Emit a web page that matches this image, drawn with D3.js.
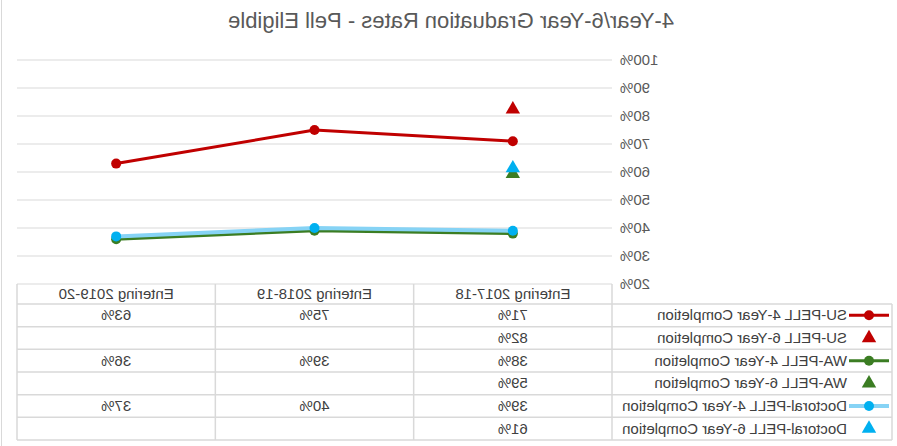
<!DOCTYPE html>
<html>
<head>
<meta charset="utf-8">
<script src="https://cdn.jsdelivr.net/npm/d3@7"></script>
<style>
  body { margin: 0; background: #fff; }
  text { font-family: "Liberation Sans", Arial, sans-serif; }
</style>
</head>
<body>
<svg id="chart" width="897" height="446"></svg>
<script>
const categories = [ "Entering 2017-18", "Entering 2018-19", "Entering 2019-20" ];
const yTicks = [ 20, 30, 40, 50, 60, 70, 80, 90, 100 ];

const suPell4 = [ 71, 75, 63 ];
const suPell6 = [ 82, null, null ];
const waPell4 = [ 38, 39, 36 ];
const waPell6 = [ 59, null, null ];
const docPell4 = [ 39, 40, 37 ];
const docPell6 = [ 61, null, null ];

const seriesNames = [
  "SU-PELL 4-Year Completion",
  "SU-PELL 6-Year Completion",
  "WA-PELL 4-Year Completion",
  "WA-PELL 6-Year Completion",
  "Doctoral-PELL 4-Year Completion",
  "Doctoral-PELL 6-Year Completion",
];

const series = [
  { name: seriesNames[0], values: suPell4, type: "line", line: "#C00000", mark: "#C00000", lw: 3 },
  { name: seriesNames[1], values: suPell6, type: "tri", mark: "#C00000" },
  { name: seriesNames[2], values: waPell4, type: "line", line: "#3B7D23", mark: "#3B7D23", lw: 3 },
  { name: seriesNames[3], values: waPell6, type: "tri", mark: "#3B7D23" },
  { name: seriesNames[4], values: docPell4, type: "line", line: "#86D3F5", mark: "#00B0F0", lw: 4 },
  { name: seriesNames[5], values: docPell6, type: "tri", mark: "#00B0F0" },
];

const W = 897, H = 446;
const PLOT = { left: 285, right: 880, top: 60, bottom: 284 };
const ROW0 = 304, ROWH = 22.67, LEGX = 5;
const FS = 15;

const svg = d3.select( "#chart" );
// the reference picture is mirrored left-to-right
const root = svg.append( "g" ).attr( "transform", `translate(${W},0) scale(-1,1)` );

root.append( "line" )
  .attr( "x1", W - 1.5 ).attr( "x2", W - 1.5 ).attr( "y1", 0 ).attr( "y2", H )
  .attr( "stroke", "#d9d9d9" );

root.append( "text" )
  .attr( "x", 446 ).attr( "y", 28 )
  .attr( "text-anchor", "middle" )
  .attr( "font-size", 22 )
  .attr( "fill", "#595959" )
  .text( "4-Year/6-Year Graduation Rates - Pell Eligible" );

const x = d3.scaleBand().domain( categories ).range( [ PLOT.left, PLOT.right ] ).padding( 0 );
const y = d3.scaleLinear().domain( [ 20, 100 ] ).range( [ PLOT.bottom, PLOT.top ] );
const cx = c => x( c ) + x.bandwidth() / 2;

// gridlines
root.append( "g" ).selectAll( "line" )
  .data( yTicks.filter( t => t > 20 ) )
  .enter().append( "line" )
  .attr( "x1", PLOT.left ).attr( "x2", PLOT.right )
  .attr( "y1", d => y( d ) ).attr( "y2", d => y( d ) )
  .attr( "stroke", "#d9d9d9" ).attr( "stroke-width", 1 );

// y axis labels
const yAxis = d3.axisLeft( y ).tickValues( yTicks ).tickFormat( d => d + "%" ).tickSize( 0 ).tickPadding( 8 );
const ya = root.append( "g" ).attr( "transform", `translate(${PLOT.left},0)` ).call( yAxis );
ya.select( ".domain" ).remove();
ya.selectAll( "text" )
  .attr( "font-size", FS ).attr( "fill", "#595959" )
  .style( "font-family", "'Liberation Sans', Arial, sans-serif" );

// series
const line = d3.line()
  .defined( d => d.v !== null )
  .x( d => cx( d.c ) )
  .y( d => y( d.v ) );

const tri = d3.symbol().type( d3.symbolTriangle ).size( 90 );

series.forEach( s => {
  const pts = s.values.map( ( v, i ) => ( { c: categories[i], v } ) );
  const g = root.append( "g" );
  if ( s.type === "line" ) {
    g.append( "path" ).datum( pts )
      .attr( "d", line )
      .attr( "fill", "none" )
      .attr( "stroke", s.line ).attr( "stroke-width", s.lw )
      .attr( "stroke-linejoin", "round" );
    g.selectAll( "circle" ).data( pts.filter( p => p.v !== null ) )
      .enter().append( "circle" )
      .attr( "cx", d => cx( d.c ) ).attr( "cy", d => y( d.v ) )
      .attr( "r", 5 ).attr( "fill", s.mark );
  } else {
    g.selectAll( "path" ).data( pts.filter( p => p.v !== null ) )
      .enter().append( "path" )
      .attr( "d", tri )
      .attr( "transform", d => `translate(${cx( d.c )},${y( d.v ) - 1})` )
      .attr( "fill", s.mark );
  }
} );

// data table
const grid = "#d9d9d9";
const tbl = root.append( "g" );
const rowsBottom = ROW0 + ROWH * series.length;

// header row
tbl.append( "line" ).attr( "x1", PLOT.left ).attr( "x2", PLOT.right )
  .attr( "y1", PLOT.bottom ).attr( "y2", PLOT.bottom ).attr( "stroke", grid );
tbl.selectAll( ".hdr" ).data( categories ).enter().append( "text" )
  .attr( "x", d => cx( d ) ).attr( "y", PLOT.bottom + 15 )
  .attr( "text-anchor", "middle" ).attr( "font-size", FS ).attr( "fill", "#404040" )
  .text( d => d );

// horizontal row lines
d3.range( series.length + 1 ).forEach( i => {
  tbl.append( "line" )
    .attr( "x1", LEGX ).attr( "x2", PLOT.right )
    .attr( "y1", ROW0 + i * ROWH ).attr( "y2", ROW0 + i * ROWH )
    .attr( "stroke", grid ).attr( "stroke-width", 1.5 );
} );

// vertical lines
const vx = [ PLOT.left ].concat( categories.map( c => x( c ) + x.bandwidth() ) );
vx.forEach( v => {
  tbl.append( "line" ).attr( "x1", v ).attr( "x2", v )
    .attr( "y1", PLOT.bottom ).attr( "y2", rowsBottom )
    .attr( "stroke", grid ).attr( "stroke-width", 1.5 );
} );
tbl.append( "line" ).attr( "x1", LEGX ).attr( "x2", LEGX )
  .attr( "y1", ROW0 ).attr( "y2", rowsBottom ).attr( "stroke", grid ).attr( "stroke-width", 1.5 );

// cells
series.forEach( ( s, r ) => {
  const ym = ROW0 + r * ROWH + ROWH / 2;
  s.values.forEach( ( v, i ) => {
    if ( v === null ) return;
    tbl.append( "text" )
      .attr( "x", cx( categories[i] ) ).attr( "y", ym + 5 )
      .attr( "text-anchor", "middle" ).attr( "font-size", FS ).attr( "fill", "#404040" )
      .text( v + "%" );
  } );
  // legend key
  if ( s.type === "line" ) {
    tbl.append( "line" ).attr( "x1", 8 ).attr( "x2", 48 ).attr( "y1", ym ).attr( "y2", ym )
      .attr( "stroke", s.line ).attr( "stroke-width", s.lw );
    tbl.append( "circle" ).attr( "cx", 28 ).attr( "cy", ym ).attr( "r", 5 ).attr( "fill", s.mark );
  } else {
    tbl.append( "path" ).attr( "d", tri ).attr( "transform", `translate(28,${ym})` ).attr( "fill", s.mark );
  }
  tbl.append( "text" )
    .attr( "x", 50 ).attr( "y", ym + 5 )
    .attr( "font-size", FS ).attr( "fill", "#404040" )
    .text( s.name );
} );
</script>
</body>
</html>
